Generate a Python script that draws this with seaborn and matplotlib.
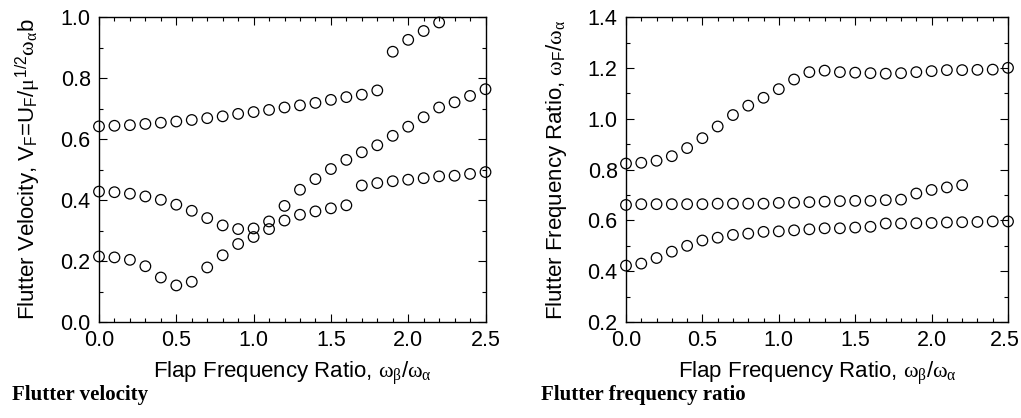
import numpy as np
import pandas as pd
import matplotlib
matplotlib.use("Agg")
import matplotlib.pyplot as plt
from matplotlib.ticker import MultipleLocator
from matplotlib.transforms import ScaledTranslation
import seaborn as sns

# ---------------- data ----------------
# Flutter velocity panel
v_upper_x = [0.0, 0.1, 0.2, 0.3, 0.4, 0.5, 0.6, 0.7, 0.8, 0.9, 1.0, 1.1, 1.2, 1.3, 1.4,
             1.5, 1.6, 1.7, 1.8, 1.9, 2.0, 2.1, 2.2]
v_upper_y = [0.642, 0.644, 0.646, 0.650, 0.654, 0.658, 0.663, 0.669, 0.675, 0.683, 0.689,
             0.696, 0.704, 0.711, 0.719, 0.729, 0.738, 0.746, 0.760, 0.887, 0.926, 0.955, 0.983]
v_mid_x = [0.0, 0.1, 0.2, 0.3, 0.4, 0.5, 0.6, 0.7, 0.8, 0.9, 1.0, 1.1, 1.2, 1.3, 1.4,
           1.5, 1.6, 1.7, 1.8, 1.9, 2.0, 2.1, 2.2, 2.3, 2.4, 2.5]
v_mid_y = [0.428, 0.426, 0.421, 0.412, 0.401, 0.385, 0.365, 0.341, 0.317, 0.305, 0.307,
           0.330, 0.381, 0.434, 0.469, 0.502, 0.532, 0.557, 0.580, 0.611, 0.641, 0.672,
           0.704, 0.721, 0.742, 0.764]
v_low_x = [0.0, 0.1, 0.2, 0.3, 0.4, 0.5, 0.6, 0.7, 0.8, 0.9, 1.0, 1.1, 1.2, 1.3, 1.4,
           1.5, 1.6, 1.7, 1.8, 1.9, 2.0, 2.1, 2.2, 2.3, 2.4, 2.5]
v_low_y = [0.215, 0.212, 0.204, 0.183, 0.146, 0.120, 0.132, 0.179, 0.219, 0.256, 0.279,
           0.305, 0.333, 0.352, 0.363, 0.373, 0.383, 0.448, 0.456, 0.462, 0.467, 0.472,
           0.478, 0.480, 0.486, 0.492]

# Flutter frequency ratio panel
f_upper_x = [0.0, 0.1, 0.2, 0.3, 0.4, 0.5, 0.6, 0.7, 0.8, 0.9, 1.0, 1.1, 1.2, 1.3, 1.4,
             1.5, 1.6, 1.7, 1.8, 1.9, 2.0, 2.1, 2.2, 2.3, 2.4, 2.5]
f_upper_y = [0.824, 0.827, 0.835, 0.853, 0.885, 0.924, 0.970, 1.015, 1.052, 1.083, 1.117,
             1.155, 1.184, 1.190, 1.184, 1.182, 1.180, 1.178, 1.180, 1.184, 1.188, 1.192,
             1.192, 1.193, 1.194, 1.201]
f_mid_x = [0.0, 0.1, 0.2, 0.3, 0.4, 0.5, 0.6, 0.7, 0.8, 0.9, 1.0, 1.1, 1.2, 1.3, 1.4,
           1.5, 1.6, 1.7, 1.8, 1.9, 2.0, 2.1, 2.2]
f_mid_y = [0.661, 0.664, 0.664, 0.664, 0.664, 0.664, 0.666, 0.666, 0.666, 0.666, 0.669,
           0.670, 0.672, 0.674, 0.676, 0.677, 0.677, 0.680, 0.682, 0.706, 0.720, 0.730, 0.739]
f_low_x = [0.0, 0.1, 0.2, 0.3, 0.4, 0.5, 0.6, 0.7, 0.8, 0.9, 1.0, 1.1, 1.2, 1.3, 1.4,
           1.5, 1.6, 1.7, 1.8, 1.9, 2.0, 2.1, 2.2, 2.3, 2.4, 2.5]
f_low_y = [0.422, 0.430, 0.452, 0.477, 0.500, 0.521, 0.532, 0.543, 0.548, 0.555, 0.557,
           0.561, 0.565, 0.569, 0.569, 0.572, 0.575, 0.588, 0.588, 0.589, 0.590, 0.592,
           0.593, 0.594, 0.596, 0.596]

x_ticks = [0.0, 0.5, 1.0, 1.5, 2.0, 2.5]
v_ticks = [0.0, 0.2, 0.4, 0.6, 0.8, 1.0]
f_ticks = [0.2, 0.4, 0.6, 0.8, 1.0, 1.2, 1.4]

xlabel = r"Flap Frequency Ratio, $\omega_\beta/\omega_\alpha$"
ylabel_v = r"Flutter Velocity, V$_\mathrm{F}$=U$_\mathrm{F}$/$\mu^{1/2}\omega_\alpha$b"
ylabel_f = r"Flutter Frequency Ratio, $\omega_\mathrm{F}/\omega_\alpha$"
caption_v = "Flutter velocity"
caption_f = "Flutter frequency ratio"

# ---------------- style ----------------
sns.set_theme(style="ticks")
plt.rcParams["font.family"] = ["Liberation Sans", "DejaVu Sans"]
plt.rcParams["mathtext.fontset"] = "custom"
plt.rcParams["mathtext.rm"] = "Liberation Sans"
plt.rcParams["mathtext.it"] = "Liberation Serif"
plt.rcParams["mathtext.bf"] = "Liberation Sans:bold"
plt.rcParams["mathtext.sf"] = "Liberation Sans"

fig = plt.figure(figsize=(10.21, 4.18), dpi=100)
ax1 = fig.add_axes([99 / 1021, 1 - 322 / 418, (485.5 - 99) / 1021, (322 - 17.3) / 418])
ax2 = fig.add_axes([626 / 1021, 1 - 322 / 418, (1008 - 626) / 1021, (322 - 17.3) / 418])


def panel(ax, series, ylim, yticks, ylabel):
    df = pd.concat([pd.DataFrame({"x": sx, "y": sy}) for sx, sy in series],
                   ignore_index=True)
    sns.scatterplot(data=df, x="x", y="y", ax=ax, marker="o", s=58,
                    facecolors="none", edgecolor="black", linewidth=0.9,
                    clip_on=False, zorder=3)
    ax.set_xlim(0, 2.5)
    ax.set_ylim(*ylim)
    ax.set_xticks(x_ticks)
    ax.set_xticklabels([f"{t:.1f}" for t in x_ticks])
    ax.set_yticks(yticks)
    ax.set_yticklabels([f"{t:.1f}" for t in yticks])
    ax.xaxis.set_minor_locator(MultipleLocator(0.1))
    ax.yaxis.set_minor_locator(MultipleLocator(0.1))
    ax.tick_params(which="both", direction="in", top=True, right=True,
                   color="black", width=0.8)
    ax.tick_params(which="major", length=5.5, labelsize=15.5, pad=6,
                   labelcolor="black")
    ax.tick_params(which="minor", length=3)
    for sp in ax.spines.values():
        sp.set_visible(True)
        sp.set_color("black")
        sp.set_linewidth(1.0)
    ax.set_xlabel(xlabel, fontsize=16, color="black", labelpad=6)
    ax.set_ylabel(ylabel, fontsize=16, color="black", labelpad=13)
    ax.set_facecolor("white")


panel(ax1, [(v_upper_x, v_upper_y), (v_mid_x, v_mid_y), (v_low_x, v_low_y)],
      (0.0, 1.0), v_ticks, ylabel_v)
panel(ax2, [(f_upper_x, f_upper_y), (f_mid_x, f_mid_y), (f_low_x, f_low_y)],
      (0.2, 1.4), f_ticks, ylabel_f)

# keep the last x tick label of the right panel inside the figure
last = ax2.get_xticklabels()[-1]
last.set_transform(last.get_transform() + ScaledTranslation(-3 / 100, 0, fig.dpi_scale_trans))

fig.text(12 / 1021, 1 - 395 / 418, caption_v, fontfamily="Liberation Serif",
         fontweight="bold", fontsize=15, va="center", ha="left", color="black")
fig.text(541 / 1021, 1 - 395 / 418, caption_f, fontfamily="Liberation Serif",
         fontweight="bold", fontsize=15, va="center", ha="left", color="black")

fig.savefig("out.png", dpi=100, facecolor="white")
